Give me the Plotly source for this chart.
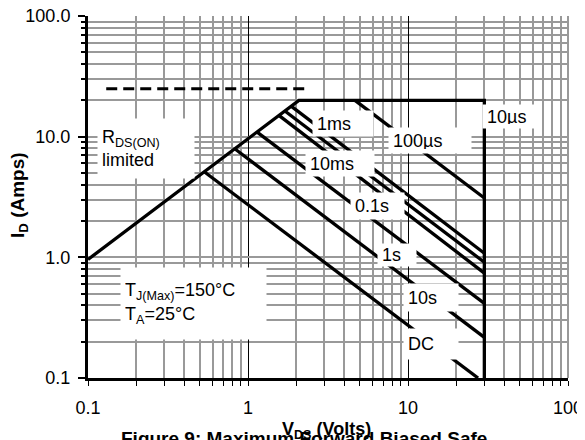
import plotly.graph_objects as go

# ---- data ----
# operating boundary: RDS(on) limit -> current limit -> voltage limit
boundary_v = [0.1, 2.08, 30, 30]
boundary_i = [0.96, 20, 20, 0.1]

# package limit (dashed)
dash_v = [0.13, 2.27]
dash_i = [25, 25]

# pulse-width lines: [start, end]
pulse_names = ["100µs", "1ms", "10ms", "0.1s", "1s", "10s", "DC"]
pulse_v = [[4.66, 30], [1.86, 30], [1.70, 30], [1.56, 30], [1.14, 30], [0.83, 30], [0.535, 27.4]]
pulse_i = [[20, 3.1], [17.9, 1.08], [16.3, 0.91], [15.0, 0.74], [10.9, 0.415], [7.9, 0.217], [5.1, 0.1]]

x_major = [0.1, 1, 10, 100]
x_major_text = ["0.1", "1", "10", "100"]
y_major = [0.1, 1, 10, 100]
y_major_text = ["0.1", "1.0", "10.0", "100.0"]
x_minor = [0.2, 0.3, 0.4, 0.5, 0.6, 0.7, 0.8, 0.9,
           2, 3, 4, 5, 6, 7, 8, 9,
           20, 30, 40, 50, 60, 70, 80, 90]
y_minor = list(x_minor)

FONT = "Liberation Sans, Arial, sans-serif"
OFF = 8  # page body margin
W, H = 585 - OFF, 440 - OFF
L, R, T, B = 88 - OFF, 17, 16 - OFF, 62
PW, PH = W - L - R, H - T - B


def px(xp):
    return (xp - OFF - L) / PW


def py(yp):
    return (H - B - (yp - OFF)) / PH


fig = go.Figure()

fig.add_trace(go.Scatter(x=boundary_v, y=boundary_i, mode="lines",
                         line=dict(color="black", width=3.3), showlegend=False))
fig.add_trace(go.Scatter(x=dash_v, y=dash_i, mode="lines",
                         line=dict(color="black", width=3, dash="11px,6px"), showlegend=False))
for name, v, i in zip(pulse_names, pulse_v, pulse_i):
    fig.add_trace(go.Scatter(x=v, y=i, mode="lines", name=name,
                             line=dict(color="black", width=3.3), showlegend=False))

# label boxes (left, top, right, bottom in page pixels) with text
labels = [
    ("1ms", (312, 110, 372, 135)),
    ("100µs", (388, 127, 470, 152)),
    ("10µs", (482, 104, 540, 127)),
    ("10ms", (305, 150, 373, 175)),
    ("0.1s", (350, 192, 403, 218)),
    ("1s", (377, 243, 415, 265)),
    ("10s", (403, 283, 457, 310)),
    ("DC", (403, 328, 457, 358)),
    ("R<sub>DS(ON)</sub><br>limited", (97, 118, 193, 177)),
    ("T<sub>J(Max)</sub>=150°C<br>T<sub>A</sub>=25°C", (120, 267, 265, 338)),
]
pad = 4
for text, (l, t, r, b) in labels:
    fig.add_annotation(
        text=text, xref="paper", yref="paper",
        x=px(l), y=py(t), xanchor="left", yanchor="top",
        width=r - l - 2 * pad, height=b - t - 2 * pad,
        align="left", valign="middle", showarrow=False,
        bgcolor="white", borderpad=pad,
        font=dict(family=FONT, size=18, color="black"))

# grey right border
fig.add_shape(type="line", xref="paper", yref="paper", x0=1, x1=1, y0=0, y1=1,
              line=dict(color="#999999", width=2), layer="below")

# axis titles and caption
fig.add_annotation(text="<b>I<sub>D</sub> (Amps)</b>", xref="paper", yref="paper",
                   x=px(19), y=py(195), textangle=-90, showarrow=False,
                   xanchor="center", yanchor="middle",
                   font=dict(family=FONT, size=19, color="black"))
fig.add_annotation(text="<b>V<sub>DS</sub> (Volts)</b>", xref="paper", yref="paper",
                   x=px(326), y=py(430), showarrow=False,
                   xanchor="center", yanchor="middle",
                   font=dict(family=FONT, size=18, color="black"))
fig.add_annotation(text="<b>Figure 9: Maximum Forward Biased Safe</b>", xref="paper", yref="paper",
                   x=px(304), y=py(438), showarrow=False,
                   xanchor="center", yanchor="middle",
                   font=dict(family=FONT, size=19, color="black"))

fig.update_layout(
    width=W, height=H,
    margin=dict(l=L, r=R, t=T, b=B, autoexpand=False),
    paper_bgcolor="white", plot_bgcolor="white",
    font=dict(family=FONT, size=18, color="black"),
    showlegend=False,
)

fig.update_xaxes(
    type="log", range=[-1, 2], automargin=False,
    tickmode="array", tickvals=x_major, ticktext=x_major_text,
    showgrid=True, gridcolor="black", gridwidth=1.2,
    showline=True, linecolor="black", linewidth=3,
    ticks="outside", ticklen=5, tickwidth=1, tickcolor="black",
    ticklabelstandoff=6, ticklabeloverflow="allow",
    tickfont=dict(family=FONT, size=18, color="black"),
    zeroline=False,
    minor=dict(tickmode="array", tickvals=x_minor, showgrid=True,
               gridcolor="#999999", gridwidth=2,
               ticks="outside", ticklen=5, tickwidth=1, tickcolor="black"),
)
fig.update_yaxes(
    type="log", range=[-1, 2], automargin=False,
    tickmode="array", tickvals=y_major, ticktext=y_major_text,
    showgrid=True, gridcolor="#999999", gridwidth=2,
    showline=True, linecolor="black", linewidth=3,
    ticks="outside", ticklen=7, tickwidth=1.5, tickcolor="black",
    ticklabelstandoff=4, ticklabeloverflow="allow",
    tickfont=dict(family=FONT, size=18, color="black"),
    zeroline=False,
    minor=dict(tickmode="array", tickvals=y_minor, showgrid=True,
               gridcolor="#999999", gridwidth=2,
               ticks="outside", ticklen=4, tickwidth=1.5, tickcolor="black"),
)

fig.write_html("out.html")
